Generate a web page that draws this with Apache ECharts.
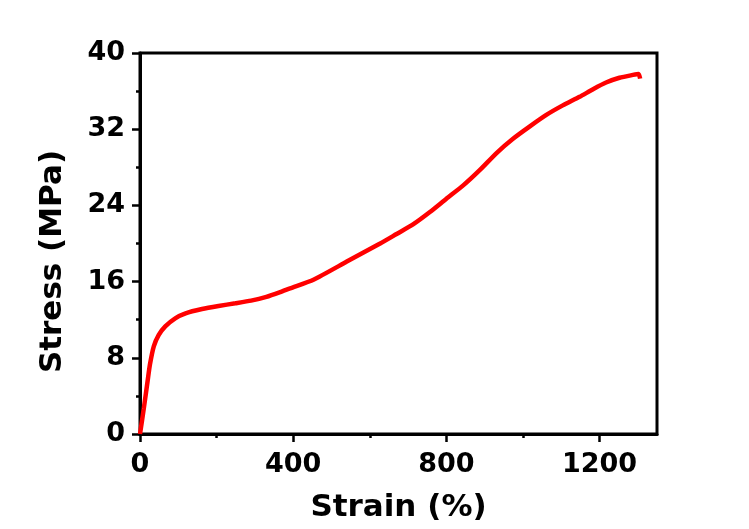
<!DOCTYPE html>
<html>
<head>
<meta charset="utf-8">
<script src="https://cdn.jsdelivr.net/npm/echarts@6/dist/echarts.min.js"></script>
<style>
  html, body { margin: 0; padding: 0; background: #fff; }
  #main { width: 749px; height: 529px; }
</style>
</head>
<body>
<div id="main"></div>
<script>
// strain (%) and stress (MPa)
var strain = [0, 10, 20, 26, 36, 49, 66, 92, 119, 162, 205, 249, 290, 330, 366, 392, 453, 540, 627, 670, 713, 757, 800, 844, 887, 931, 974, 1018, 1061, 1104, 1148, 1183, 1217, 1252, 1287, 1302, 1306];
var stress = [0, 2.7, 5.6, 7.3, 9.2, 10.4, 11.3, 12.15, 12.67, 13.12, 13.44, 13.72, 14.0, 14.4, 14.9, 15.3, 16.2, 18.1, 20.0, 21.0, 22.0, 23.3, 24.7, 26.1, 27.7, 29.5, 31.0, 32.3, 33.5, 34.5, 35.4, 36.2, 36.9, 37.4, 37.7, 37.8, 37.3];

var xTicks = [0, 400, 800, 1200];
var xMinorTicks = [200, 600, 1000];

var points = [];
for (var i = 0; i < strain.length; i++) {
  points.push([strain[i], stress[i]]);
}

var font = 'DejaVu Sans, sans-serif';

var chart = echarts.init(document.getElementById('main'), null, { renderer: 'canvas' });

var option = {
  backgroundColor: '#fff',
  animation: false,
  grid: {
    left: 140,
    top: 53,
    right: 92,
    bottom: 95,
    show: true,
    borderColor: '#000',
    borderWidth: 3,
    containLabel: false,
    outerBoundsMode: 'none'
  },
  xAxis: [{
    type: 'value',
    min: 0,
    max: 1350,
    interval: 400,
    name: 'Strain (%)',
    nameLocation: 'middle',
    nameGap: 58,
    nameTextStyle: { color: '#000', fontFamily: font, fontWeight: 'bold', fontSize: 31 },
    axisLine: { lineStyle: { color: '#000', width: 3 } },
    axisTick: { show: true, inside: false, length: 8, customValues: xTicks, lineStyle: { color: '#000', width: 2.5 } },
    axisLabel: {
      customValues: xTicks, margin: 17, color: '#000', fontFamily: font, fontWeight: 'bold', fontSize: 27,
      formatter: function (v) { return String(v); }
    },
    splitLine: { show: false }
  }, {
    // minor ticks only
    type: 'value',
    min: 0,
    max: 1350,
    interval: 400,
    position: 'bottom',
    axisLine: { show: false },
    axisTick: { show: true, inside: false, length: 4, customValues: xMinorTicks, lineStyle: { color: '#000', width: 2.5 } },
    axisLabel: { show: false },
    splitLine: { show: false }
  }],
  yAxis: {
    type: 'value',
    min: 0,
    max: 40,
    interval: 8,
    name: 'Stress (MPa)',
    nameLocation: 'middle',
    nameGap: 72,
    nameTextStyle: { color: '#000', fontFamily: font, fontWeight: 'bold', fontSize: 31, padding: [0, 36, 0, 0] },
    axisLine: { lineStyle: { color: '#000', width: 3 } },
    axisTick: { show: true, inside: false, length: 8, lineStyle: { color: '#000', width: 2.5 } },
    minorTick: { show: true, splitNumber: 2, length: 4, lineStyle: { color: '#000', width: 2.5 } },
    axisLabel: { margin: 15, color: '#000', fontFamily: font, fontWeight: 'bold', fontSize: 27 },
    splitLine: { show: false }
  },
  series: [{
    type: 'line',
    data: points,
    showSymbol: false,
    smooth: 0.2,
    lineStyle: { color: '#ff0000', width: 4.5 },
    itemStyle: { color: '#ff0000' }
  }]
};

chart.setOption(option);
</script>
</body>
</html>
